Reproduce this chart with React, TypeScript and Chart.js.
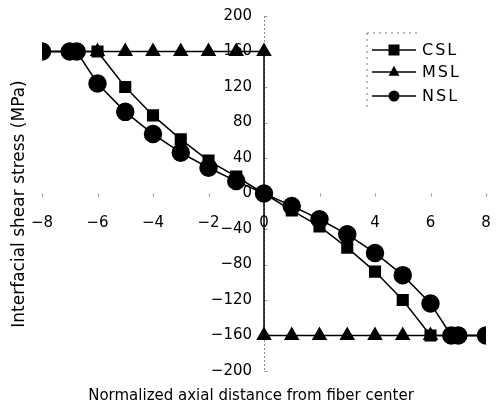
import React, { useEffect, useRef } from "react";
import { Chart, registerables } from "chart.js";

Chart.register(...registerables);

const seriesNames = ["CSL", "MSL", "NSL"];

const cslX = [-8, -7, -6, -5, -4, -3, -2, -1, 0, 1, 2, 3, 4, 5, 6, 7, 8];
const cslY = [160, 160, 160, 120, 88, 61, 37, 19, 0, -19, -37, -61, -88, -120, -160, -160, -160];

const mslX = [-8, -7, -6, -5, -4, -3, -2, -1, 0, 0, 1, 2, 3, 4, 5, 6, 7, 8];
const mslY = [160, 160, 160, 160, 160, 160, 160, 160, 160, -160, -160, -160, -160, -160, -160, -160, -160, -160];

const nslX = [-8, -7, -6.75, -6, -5, -4, -3, -2, -1, 0, 1, 2, 3, 4, 5, 6, 6.75, 7, 8];
const nslY = [160, 160, 160, 124, 92, 67, 46, 29, 14, 0, -14, -29, -46, -67, -92, -124, -160, -160, -160];

const xTicks = [-8, -6, -4, -2, 0, 2, 4, 6, 8];
const yTicks = [-200, -160, -120, -80, -40, 0, 40, 80, 120, 160, 200];

const xTitle = "Normalized axial distance from fiber center";
const yTitle = "Interfacial shear stress (MPa)";

const FONT = "'DejaVu Sans', 'Liberation Sans', Arial, sans-serif";

function toPts(xs: number[], ys: number[]) {
  return xs.map((x, i) => ({ x, y: ys[i] }));
}

function drawMarker(ctx: CanvasRenderingContext2D, style: string, x: number, y: number, r: number) {
  ctx.beginPath();
  if (style === "rect") {
    ctx.rect(x - r, y - r, 2 * r, 2 * r);
  } else if (style === "triangle") {
    ctx.moveTo(x, y - r * 1.15);
    ctx.lineTo(x + r, y + r * 0.7);
    ctx.lineTo(x - r, y + r * 0.7);
    ctx.closePath();
  } else {
    ctx.arc(x, y, r, 0, Math.PI * 2);
  }
  ctx.fill();
}

const axisPlugin = {
  id: "axisLines",
  beforeDatasetsDraw(chart: any) {
    const ctx = chart.ctx as CanvasRenderingContext2D;
    const xs = chart.scales.x;
    const ys = chart.scales.y;
    const x0 = Math.round(xs.getPixelForValue(0)) + 0.5;
    const y0 = ys.getPixelForValue(0);
    ctx.save();
    ctx.strokeStyle = "#888";
    ctx.lineWidth = 1;
    ctx.setLineDash([2, 2]);
    ctx.beginPath();
    ctx.moveTo(x0, ys.getPixelForValue(200));
    ctx.lineTo(x0, ys.getPixelForValue(-200));
    ctx.stroke();
    ctx.setLineDash([]);
    ctx.strokeStyle = "#999";
    ctx.beginPath();
    xTicks.forEach((v) => {
      const px = Math.round(xs.getPixelForValue(v)) + 0.5;
      ctx.moveTo(px, y0);
      ctx.lineTo(px, y0 + 3);
    });
    yTicks.forEach((v) => {
      const py = Math.round(ys.getPixelForValue(v)) + 0.5;
      ctx.moveTo(x0, py);
      ctx.lineTo(x0 + 3, py);
    });
    ctx.stroke();
    ctx.restore();
  },
};

const extrasPlugin = {
  id: "extras",
  afterDraw(chart: any) {
    const ctx = chart.ctx as CanvasRenderingContext2D;
    ctx.save();
    ctx.fillStyle = "#000";
    ctx.font = `15px ${FONT}`;
    ctx.textAlign = "center";
    ctx.textBaseline = "middle";
    ctx.fillText(xTitle, 251, 396);
    ctx.save();
    ctx.translate(20, 204);
    ctx.rotate(-Math.PI / 2);
    ctx.font = `17px ${FONT}`;
    ctx.fillText(yTitle, 0, 0);
    ctx.restore();

    // legend
    const lx = 367, ly = 33;
    ctx.strokeStyle = "#777";
    ctx.lineWidth = 1;
    ctx.setLineDash([2, 4]);
    ctx.beginPath();
    ctx.moveTo(lx, ly);
    ctx.lineTo(lx + 50, ly);
    ctx.moveTo(lx, ly);
    ctx.lineTo(lx, ly + 78);
    ctx.stroke();
    ctx.setLineDash([]);
    const styles = ["rect", "triangle", "circle"];
    const rows = [50, 72, 96];
    ctx.textAlign = "left";
    ctx.font = `16px ${FONT}`;
    (ctx as any).letterSpacing = "2px";
    chart.data.datasets.forEach((ds: any, i: number) => {
      const y = rows[i];
      ctx.strokeStyle = "#000";
      ctx.lineWidth = 1.5;
      ctx.beginPath();
      ctx.moveTo(372, y);
      ctx.lineTo(416, y);
      ctx.stroke();
      ctx.fillStyle = "#000";
      drawMarker(ctx, styles[i], 394, y, 5.5);
      ctx.fillText(ds.label, 422, y + 1);
    });
    ctx.restore();
  },
};

export default function App() {
  const ref = useRef<HTMLCanvasElement | null>(null);
  useEffect(() => {
    if (!ref.current) return;
    const common = {
      borderColor: "#000",
      backgroundColor: "#000",
      pointBackgroundColor: "#000",
      pointBorderColor: "#000",
      borderWidth: 1.5,
      showLine: true,
      tension: 0,
    };
    const chart = new Chart(ref.current, {
      type: "scatter",
      data: {
        datasets: [
          { ...common, label: seriesNames[0], data: toPts(cslX, cslY), pointStyle: "rect", pointRadius: 7.5, order: 2 },
          { ...common, label: seriesNames[1], data: toPts(mslX, mslY), pointStyle: "triangle", pointRadius: 7.5, order: 3 },
          { ...common, label: seriesNames[2], data: toPts(nslX, nslY), pointStyle: "circle", pointRadius: 8.5, order: 1 },
        ],
      },
      options: {
        animation: false,
        responsive: false,
        maintainAspectRatio: false,
        layout: { padding: { left: 42, right: 9, top: 16, bottom: 39 } },
        plugins: { legend: { display: false }, tooltip: { enabled: false } },
        scales: {
          x: {
            type: "linear",
            position: { y: 0 } as any,
            min: -8,
            max: 8,
            afterBuildTicks: (s: any) => {
              s.ticks = xTicks.map((v) => ({ value: v }));
            },
            afterFit: (s: any) => {
              s.height = 10;
              s.paddingLeft = 0;
              s.paddingRight = 0;
            },
            border: { display: false },
            grid: { display: true, drawOnChartArea: false, drawTicks: true, tickLength: 21, tickColor: "rgba(0,0,0,0)", color: "rgba(0,0,0,0)" },
            ticks: {
              color: "#000",
              font: { family: FONT, size: 15 },
              padding: 0,
              maxRotation: 0,
              autoSkip: false,
              callback: (v: any) => String(v).replace("-", "\u2212"),
            },
          },
          y: {
            type: "linear",
            position: { x: -0.43 } as any,
            min: -200,
            max: 200,
            afterBuildTicks: (s: any) => {
              s.ticks = yTicks.map((v) => ({ value: v }));
            },
            afterFit: (s: any) => {
              s.width = 10;
              s.paddingTop = 0;
              s.paddingBottom = 0;
            },
            border: { display: false },
            grid: { display: false },
            ticks: {
              color: "#000",
              font: { family: FONT, size: 15 },
              padding: 0,
              autoSkip: false,
              callback: (v: any) => String(v).replace("-", "\u2212"),
            },
          },
        },
      },
      plugins: [axisPlugin, extrasPlugin],
    });
    return () => chart.destroy();
  }, []);
  return (
    <div style={{ position: "fixed", left: 0, top: 0, width: 496, height: 410, background: "#fff" }}>
      <canvas ref={ref} width={496} height={410} style={{ width: 496, height: 410 }} />
    </div>
  );
}
